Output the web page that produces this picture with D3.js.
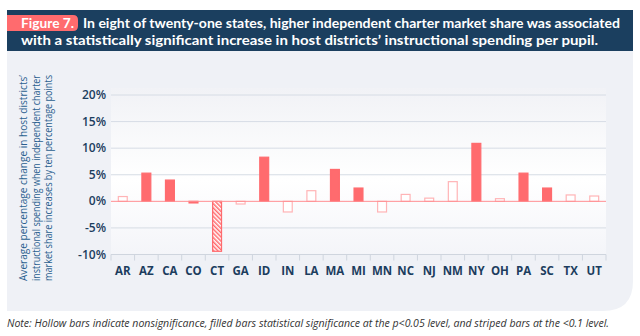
<!DOCTYPE html>
<html>
<head>
<meta charset="utf-8">
<script src="https://cdn.jsdelivr.net/npm/d3@7"></script>
<style>
  body { margin: 0; background: #fff; }
  svg { display: block; }
</style>
</head>
<body>
<svg id="chart" width="640" height="336"></svg>
<script>
const states = ['AR', 'AZ', 'CA', 'CO', 'CT', 'GA', 'ID', 'IN', 'LA', 'MA', 'MI',
                'MN', 'NC', 'NJ', 'NM', 'NY', 'OH', 'PA', 'SC', 'TX', 'UT'];
// change in spending, % per ten points of market share
const change = [0.9, 5.3, 4.0, -0.3, -9.4, -0.5, 8.3, -2.0, 2.0, 6.0, 2.5,
                -2.0, 1.3, 0.6, 3.7, 10.9, 0.5, 5.3, 2.5, 1.2, 1.0];
// 'sig' = p<0.05, 'weak' = p<0.1, 'ns' = not significant
const signif = ['ns', 'sig', 'sig', 'sig', 'weak', 'ns', 'sig', 'ns', 'ns', 'sig', 'sig',
                'ns', 'ns', 'ns', 'ns', 'sig', 'ns', 'sig', 'sig', 'ns', 'ns'];
const yTicks = [-10, -5, 0, 5, 10, 15, 20];

const titleLines = [
  'In eight of twenty-one states, higher independent charter market share was associated',
  'with a statistically significant increase in host districts\u2019 instructional spending per pupil.'
];
const yTitle = [
  'Average percentage change in host districts\u2019',
  'instructional spending when independent charter',
  'market share increases by ten percentage points'
];
const note = 'Note: Hollow bars indicate nonsignificance, filled bars statistical significance at the p<0.05 level, and striped bars at the <0.1 level.';

const navy = '#1c3d5e';
const red = '#ff6b6e';
const pink = '#ffb4b6';

const svg = d3.select('#chart');
const defs = svg.append('defs');

// panel background with rounded lower-right corner
const px0 = 7, px1 = 633, py0 = 50, py1 = 311, r = 30;
svg.append('path')
  .attr('d', `M${px0},${py0}H${px1}V${py1 - r}Q${px1},${py1} ${px1 - r},${py1}H${px0}Z`)
  .attr('fill', '#eff1f6');

// header band
svg.append('rect').attr('x', 7).attr('y', 10).attr('width', 626).attr('height', 41).attr('fill', '#1b3f5f');
svg.append('path')
  .attr('d', 'M7,15H73Q78,15 78,20V26Q78,31 73,31H7Z')
  .attr('fill', red);
svg.append('text')
  .attr('x', 21).attr('y', 27.5)
  .attr('fill', '#fff')
  .style('font', 'bold 13.5px Lato, "Open Sans", sans-serif')
  .attr('textLength', 53).attr('lengthAdjust', 'spacingAndGlyphs')
  .text('Figure 7.');
svg.append('text')
  .attr('x', 83).attr('y', 27.5)
  .attr('fill', '#fff')
  .style('font', 'bold 13.5px Lato, "Open Sans", sans-serif')
  .attr('textLength', 537).attr('lengthAdjust', 'spacingAndGlyphs')
  .text(titleLines[0]);
svg.append('text')
  .attr('x', 21).attr('y', 45)
  .attr('fill', '#fff')
  .style('font', 'bold 13.5px Lato, "Open Sans", sans-serif')
  .attr('textLength', 577).attr('lengthAdjust', 'spacingAndGlyphs')
  .text(titleLines[1]);

// plot
const x0 = 111, x1 = 606;
const x = d3.scaleBand().domain(states).range([x0, x1]).paddingInner(0.58).paddingOuter(0.29);
const xb = d3.scaleBand().domain(states).range([x0, x1]);
const y = d3.scaleLinear().domain([-10, 20]).range([254.5, 95]);

const grad = defs.append('linearGradient').attr('id', 'plotbg').attr('x1', 0).attr('y1', 0).attr('x2', 0).attr('y2', 1);
grad.append('stop').attr('offset', '0%').attr('stop-color', '#f1f2f6');
grad.append('stop').attr('offset', '55%').attr('stop-color', '#ffffff');
grad.append('stop').attr('offset', '100%').attr('stop-color', '#f4f5f9');
svg.append('rect')
  .attr('x', x0).attr('y', 88).attr('width', x1 - x0).attr('height', y(-10) - 88)
  .attr('fill', 'url(#plotbg)');

const pat = defs.append('pattern')
  .attr('id', 'stripes').attr('patternUnits', 'userSpaceOnUse')
  .attr('width', 3).attr('height', 3).attr('patternTransform', 'rotate(-45)');
pat.append('rect').attr('width', 3).attr('height', 3).attr('fill', '#fff');
pat.append('rect').attr('width', 1.5).attr('height', 3).attr('fill', red);

// gridlines
svg.append('g')
  .selectAll('line')
  .data(yTicks.filter(d => d !== 0))
  .join('line')
  .attr('x1', x0).attr('x2', x1)
  .attr('y1', d => y(d)).attr('y2', d => y(d))
  .attr('stroke', '#d6dce5').attr('stroke-width', 1);

// y tick labels
svg.append('g')
  .selectAll('text')
  .data(yTicks)
  .join('text')
  .attr('x', 106).attr('y', d => y(d) + 4)
  .attr('text-anchor', 'end')
  .attr('fill', navy)
  .style('font', '600 12px "Open Sans", sans-serif')
  .text(d => d + '%');

// x axis with ticks on band boundaries
const xAxis = svg.append('g').attr('transform', `translate(0,${y(-10)})`);
xAxis.append('line').attr('x1', x0).attr('x2', x1).attr('stroke', '#cfd5de');
xAxis.selectAll('.tk')
  .data(states.map(s => xb(s)).concat([x1]))
  .join('line')
  .attr('x1', d => d).attr('x2', d => d)
  .attr('y1', 0).attr('y2', 6)
  .attr('stroke', '#cfd5de');
xAxis.selectAll('text')
  .data(states)
  .join('text')
  .attr('x', d => xb(d) + xb.bandwidth() / 2)
  .attr('y', 20)
  .attr('text-anchor', 'middle')
  .attr('fill', navy)
  .style('font', 'bold 11.5px "Open Sans", sans-serif')
  .text(d => d);

// bars
const rows = states.map((s, i) => ({ s, v: change[i], k: signif[i] }));
svg.append('g')
  .selectAll('rect')
  .data(rows)
  .join('rect')
  .attr('x', d => x(d.s) + 0.5)
  .attr('width', x.bandwidth() - 1)
  .attr('y', d => Math.min(y(d.v), y(0)))
  .attr('height', d => Math.abs(y(d.v) - y(0)))
  .attr('fill', d => d.k === 'sig' ? red : d.k === 'weak' ? 'url(#stripes)' : '#fff')
  .attr('stroke', d => d.k === 'ns' ? pink : red)
  .attr('stroke-width', 1.2);

// zero line
svg.append('line')
  .attr('x1', x0).attr('x2', x1)
  .attr('y1', y(0)).attr('y2', y(0))
  .attr('stroke', '#ff8f92').attr('stroke-width', 1);

// y title
const yt = svg.append('text')
  .attr('transform', 'translate(27,178) rotate(-90)')
  .attr('text-anchor', 'middle')
  .attr('fill', '#2a5f8f')
  .style('font', '10.5px "Open Sans", sans-serif');
yTitle.forEach((t, i) => {
  yt.append('tspan').attr('x', 0).attr('dy', i === 0 ? 0 : 12.5)
    .attr('textLength', 206).attr('lengthAdjust', 'spacingAndGlyphs')
    .text(t);
});

// footnote
svg.append('text')
  .attr('x', 7).attr('y', 327)
  .attr('fill', '#333')
  .style('font', 'italic 10px "Open Sans", sans-serif')
  .attr('textLength', 602).attr('lengthAdjust', 'spacingAndGlyphs')
  .text(note);
</script>
</body>
</html>
